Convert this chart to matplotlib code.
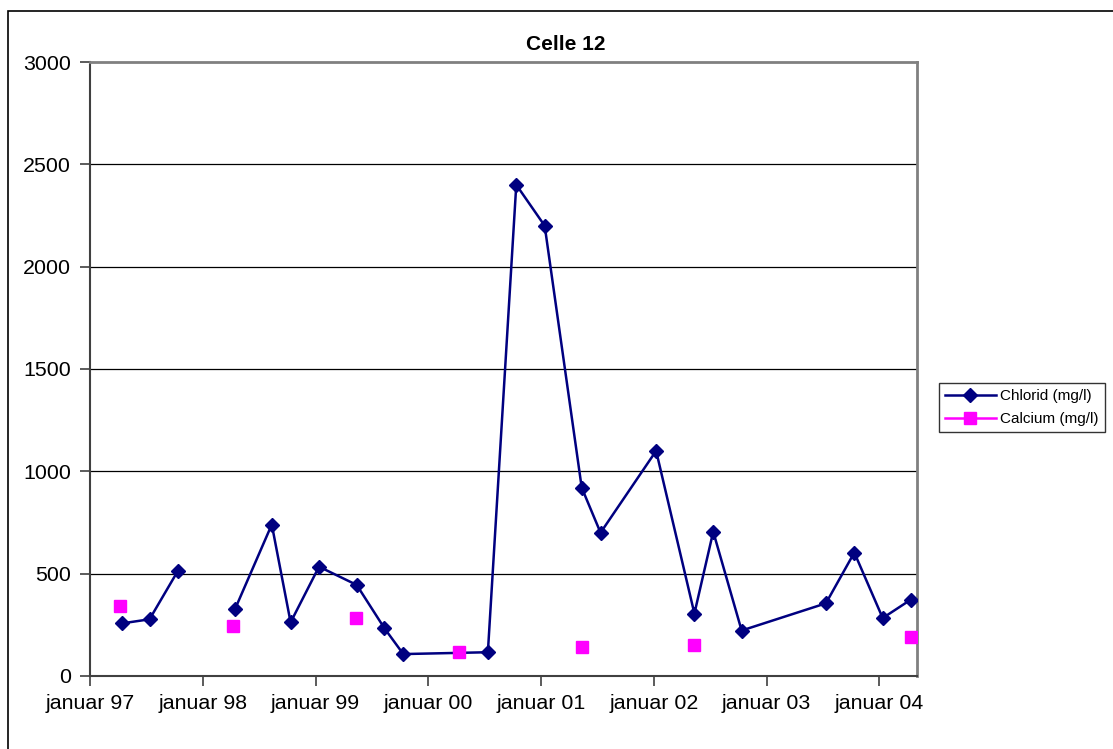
import numpy as np
import pandas as pd
import matplotlib
matplotlib.use('Agg')
import matplotlib.pyplot as plt
import matplotlib.dates as mdates
from matplotlib.patches import Rectangle

plt.rcParams['font.family'] = ['Liberation Sans', 'DejaVu Sans']

# data
chlorid_dates = ['1997-04-14', '1997-07-12', '1997-10-12', '1998-01-12', '1998-04-15',
                 '1998-08-12', '1998-10-12', '1999-01-12', '1999-05-14', '1999-08-12',
                 '1999-10-12', '2000-07-12', '2000-10-12', '2001-01-12', '2001-05-12',
                 '2001-07-12', '2002-01-08', '2002-05-12', '2002-07-12', '2002-10-12',
                 '2003-07-12', '2003-10-12', '2004-01-12', '2004-04-12']
chlorid = [257, 277, 514, np.nan, 327,
           740, 262, 534, 445, 233,
           107, 116, 2400, 2200, 920,
           700, 1100, 305, 705, 222,
           355, 603, 283, 373]

calcium_dates = ['1997-04-08', '1998-04-08', '1999-05-12', '2000-04-08',
                 '2001-05-12', '2002-05-12', '2004-04-12']
calcium = [340, 243, 282, 115, 142, 150, 190]

xtick_years = [1997, 1998, 1999, 2000, 2001, 2002, 2003, 2004]
xtick_labels = ['januar 97', 'januar 98', 'januar 99', 'januar 00',
                'januar 01', 'januar 02', 'januar 03', 'januar 04']
yticks = [0, 500, 1000, 1500, 2000, 2500, 3000]

chl = pd.Series(chlorid, index=pd.to_datetime(chlorid_dates))
cal = pd.Series(calcium, index=pd.to_datetime(calcium_dates))

fig = plt.figure(figsize=(11.13, 7.49), dpi=100)
ax = fig.add_axes([0.0811, 0.0975, 0.7425, 0.8197])

# outer chart frame
fig.patches.append(Rectangle((8 / 1113, -0.02), 1.2, 1.0053, transform=fig.transFigure,
                             fill=False, edgecolor='black', linewidth=1.2, zorder=0))

for y in yticks[1:-1]:
    ax.axhline(y, color='black', linewidth=0.9, zorder=1)

ax.plot(chl.index, chl.values, color='#000080', linewidth=1.8, marker='D',
        markersize=7, label='Chlorid (mg/l)', zorder=3)
ax.plot(cal.index, cal.values, color='#FF00FF', linewidth=1.8, linestyle='none',
        marker='s', markersize=9, label='Calcium (mg/l)', zorder=4)

ax.set_xlim(pd.Timestamp('1997-01-01'), pd.Timestamp('2004-05-01'))
ax.set_ylim(0, 3000)
ax.set_yticks(yticks)
ax.set_yticklabels([str(v) for v in yticks])
ax.set_xticks([mdates.date2num(pd.Timestamp(f'{y}-01-01')) for y in xtick_years])
ax.set_xticklabels(xtick_labels)
ax.tick_params(axis='both', direction='out', length=7, width=1.2, labelsize=15.4,
               color='#404040')
ax.tick_params(axis='y', pad=7)
ax.tick_params(axis='x', pad=6)

for s in ['top', 'right']:
    ax.spines[s].set_color('#808080')
    ax.spines[s].set_linewidth(2)
for s in ['left', 'bottom']:
    ax.spines[s].set_color('#404040')
    ax.spines[s].set_linewidth(1.5)

# title is centred on the chart area, not the plot area
fig.text(566 / 1113, 1 - 45 / 749, 'Celle 12', fontsize=15, fontweight='bold',
         ha='center', va='center')

leg = ax.legend(loc='upper left', bbox_to_anchor=(939 / 1113, 1 - 383 / 749),
                bbox_transform=fig.transFigure, fontsize=11, frameon=True,
                fancybox=False, edgecolor='black', borderaxespad=0,
                handlelength=3.3, handletextpad=0.3, labelspacing=0.6,
                borderpad=0.4)
leg.get_frame().set_linewidth(1)
# legend shows a line through the calcium marker as in the original
leg.get_lines()[1].set_linestyle('-')

fig.savefig('out.png', dpi=100, facecolor='white')
